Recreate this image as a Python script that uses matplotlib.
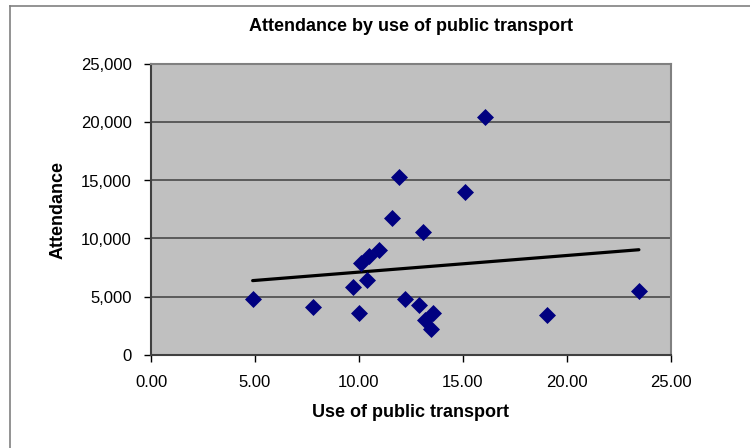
import matplotlib
matplotlib.use("Agg")
import matplotlib.pyplot as plt
from matplotlib.lines import Line2D
from matplotlib.ticker import FuncFormatter
import numpy as np

plt.rcParams['font.family'] = ['Liberation Sans', 'DejaVu Sans']

# uso de transporte publico (%) x publico
transporte = [4.89, 7.80, 9.72, 10.00, 10.09, 10.39, 10.49, 10.99, 11.60, 11.91,
              13.07, 12.23, 12.88, 13.55, 13.20, 13.48, 16.08, 15.12, 23.47, 19.07]
publico = [4820, 4130, 5860, 3610, 7880, 6430, 8510, 9010, 11810, 15330,
           10550, 4790, 4280, 3610, 2980, 2170, 20480, 14030, 5510, 3410]

x_ticks = [0, 5, 10, 15, 20, 25]
y_ticks = [0, 5000, 10000, 15000, 20000, 25000]

x = np.array(transporte)
y = np.array(publico)

fig = plt.figure(figsize=(7.5, 4.48), dpi=100)
ax = fig.add_axes([151/750, 1 - 354.5/448, (670.7 - 151)/750, (354.5 - 64.5)/448])
ax.set_facecolor('#C0C0C0')

ax.scatter(x, y, marker='D', s=75, color='#000080', zorder=3, linewidths=0)

# linha de tendencia (minimos quadrados)
a, b = np.polyfit(x, y, 1)
xt = np.array([x.min(), x.max()])
ax.plot(xt, a*xt + b, color='black', lw=2.3, zorder=2, solid_capstyle='round')

ax.set_xlim(0, 25)
ax.set_ylim(0, 25000)
ax.set_xticks(x_ticks)
ax.set_yticks(y_ticks)
ax.xaxis.set_major_formatter(FuncFormatter(lambda v, p: f'{v:.2f}'))
ax.yaxis.set_major_formatter(FuncFormatter(lambda v, p: f'{v:,.0f}'))
ax.yaxis.grid(True, color='#4a4a4a', lw=1.2)
ax.set_axisbelow(True)

for s in ['top', 'right']:
    ax.spines[s].set_color('#808080')
    ax.spines[s].set_linewidth(1.5)
for s in ['left', 'bottom']:
    ax.spines[s].set_color('#404040')
    ax.spines[s].set_linewidth(1.5)

ax.tick_params(direction='out', length=5, width=1, labelsize=12, color='black')
ax.tick_params(axis='x', pad=10)
ax.tick_params(axis='y', pad=9)

ax.set_xlabel('Use of public transport', fontsize=13, fontweight='bold', labelpad=10)
ax.set_ylabel('Attendance', fontsize=13, fontweight='bold', labelpad=10)
ax.set_title('Attendance by use of public transport', fontsize=13, fontweight='bold', pad=24)

# moldura do grafico
fig.add_artist(Line2D([10/750, 1], [1 - 6/448, 1 - 6/448], color='#808080', lw=1.2, transform=fig.transFigure))
fig.add_artist(Line2D([10/750, 10/750], [0, 1 - 6/448], color='#808080', lw=1.2, transform=fig.transFigure))

fig.savefig('out.png', dpi=100)
